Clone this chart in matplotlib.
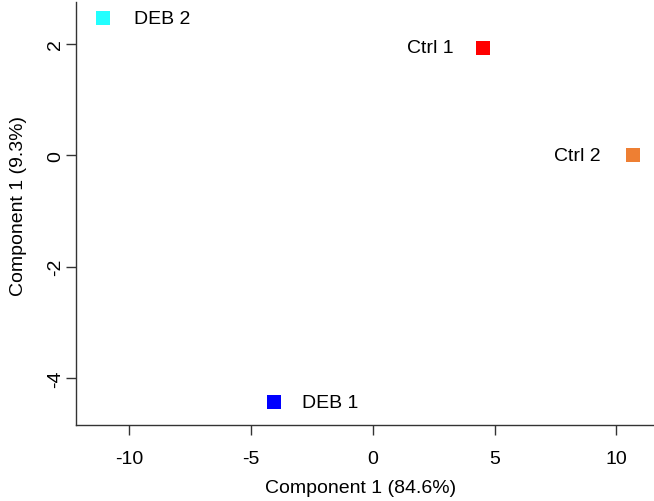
import matplotlib.pyplot as plt

plt.rcParams['font.family'] = ['Liberation Sans', 'DejaVu Sans']

# PCA scores
samples = ['DEB 2', 'Ctrl 1', 'Ctrl 2', 'DEB 1']
pc1 = [-11.09, 4.53, 10.68, -4.05]
pc2 = [2.46, 1.93, 0.0, -4.43]
colors = ['#22FFFF', '#FF0000', '#EE7F33', '#0000FF']
# label offset from the marker, in points (negative = text on the left)
label_dx = [22.5, -21, -23.5, 20]

xticks = [-10, -5, 0, 5, 10]
yticks = [-4, -2, 0, 2]

fig = plt.figure(figsize=(6.54, 5.02), dpi=100)
ax = fig.add_axes([76 / 654, 76 / 502, 578 / 654, 423 / 502])

for x, y, c, name, dx in zip(pc1, pc2, colors, samples, label_dx):
    ax.plot(x, y, marker='s', markersize=10, color=c, markeredgewidth=0, linestyle='none')
    ax.annotate(name, (x, y), xytext=(dx, 0), textcoords='offset points',
                ha='left' if dx > 0 else 'right', va='center', fontsize=14)

ax.set_xlim(-12.19, 11.55)
ax.set_ylim(-4.84, 2.75)
ax.set_xticks(xticks)
ax.set_yticks(yticks)
ax.set_xticklabels([str(t) for t in xticks])
ax.set_yticklabels([str(t) for t in yticks], rotation=90, va='center')

for s in ['top', 'right']:
    ax.spines[s].set_visible(False)
for s in ['left', 'bottom']:
    ax.spines[s].set_color('#333333')
    ax.spines[s].set_linewidth(1.0)

ax.tick_params(axis='x', direction='out', length=7.3, width=1, color='#333333',
               labelsize=14, pad=11)
ax.tick_params(axis='y', direction='out', length=7.3, width=1, color='#333333',
               labelsize=14, pad=1.5)

ax.set_xlabel('Component 1 (84.6%)', fontsize=14)
ax.set_ylabel('Component 1 (9.3%)', fontsize=14)
ax.xaxis.set_label_coords(0.492, -0.127)
ax.yaxis.set_label_coords(-0.084, 0.52)

fig.savefig('out.png', dpi=100)
